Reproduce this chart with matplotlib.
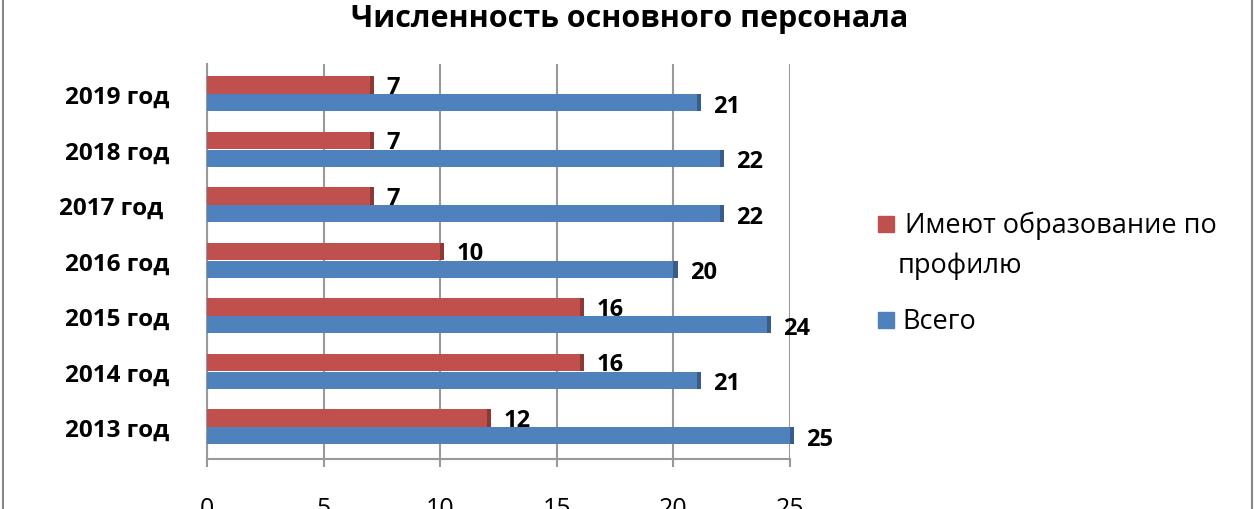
import matplotlib.pyplot as plt
import numpy as np
from matplotlib.patches import Rectangle

plt.rcParams['font.family'] = ['Open Sans', 'DejaVu Sans']

years = ['2013 год', '2014 год', '2015 год', '2016 год', '2017 год ', '2018 год', '2019 год']
profile = [12, 16, 16, 10, 7, 7, 7]
total = [25, 21, 24, 20, 22, 22, 21]
series_names = [' Имеют образование по\nпрофилю', 'Всего']
xticks = [0, 5, 10, 15, 20, 25]

red = '#C0504D'
blue = '#4F81BD'

fig = plt.figure(figsize=(12.6, 5.1), dpi=100)
ax = fig.add_axes([207 / 1260, 50 / 510, 583 / 1260, 395 / 510])

y = np.arange(len(years))
h = 0.31
off = 0.16

# тёмные торцы столбиков (имитация объёма)
ax.barh(y + off, np.array(profile) + 0.18, height=h, color='#8C3836', zorder=2, clip_on=False)
ax.barh(y - off, np.array(total) + 0.18, height=h, color='#385D8A', zorder=2, clip_on=False)
ax.barh(y + off, profile, height=h, color=red, zorder=3, clip_on=False)
ax.barh(y - off, total, height=h, color=blue, zorder=3, clip_on=False)

for i in range(len(years)):
    ax.text(profile[i] + 0.7, y[i] + off - 0.03, str(profile[i]), fontsize=17, fontweight='bold',
            va='center', ha='left', zorder=4)
    ax.text(total[i] + 0.7, y[i] - off - 0.05, str(total[i]), fontsize=17, fontweight='bold',
            va='center', ha='left', zorder=4)

ax.set_xlim(0, 25)
ax.set_ylim(-0.577, 6.54)
ax.set_yticks(y)
ax.set_yticklabels(years, fontsize=17.5, fontweight='bold')
ax.tick_params(axis='y', length=0, pad=27)
ax.set_xticks(xticks)
ax.set_xticklabels([str(t) for t in xticks], fontsize=18)
ax.tick_params(axis='x', length=6, width=1.5, color='#999999', pad=21, direction='out')

ax.grid(axis='x', color='#999999', lw=1.5, zorder=0)
for s in ['top', 'right']:
    ax.spines[s].set_visible(False)
for s in ['left', 'bottom']:
    ax.spines[s].set_color('#999999')
    ax.spines[s].set_linewidth(1.5)

fig.text(630 / 1260, 1 - 19 / 510, 'Численность основного персонала', fontsize=22,
         fontweight='bold', ha='center', va='center')

# легенда
fig.add_artist(Rectangle((878 / 1260, 1 - 233 / 510), 16 / 1260, 16 / 510,
                         transform=fig.transFigure, color=red))
fig.add_artist(Rectangle((878 / 1260, 1 - 329 / 510), 16 / 1260, 16 / 510,
                         transform=fig.transFigure, color=blue))
fig.text(898 / 1260, 1 - 246 / 510, series_names[0], fontsize=19.5, ha='left', va='center',
         linespacing=1.55, transform=fig.transFigure)
fig.text(902 / 1260, 1 - 322 / 510, series_names[1], fontsize=19.5, ha='left', va='center',
         transform=fig.transFigure)

fig.add_artist(Rectangle((3 / 1260, -0.1), 1249 / 1260, 1.2, transform=fig.transFigure,
                         fill=False, edgecolor='#888888', lw=1.5))

fig.savefig('out.png', dpi=100)
